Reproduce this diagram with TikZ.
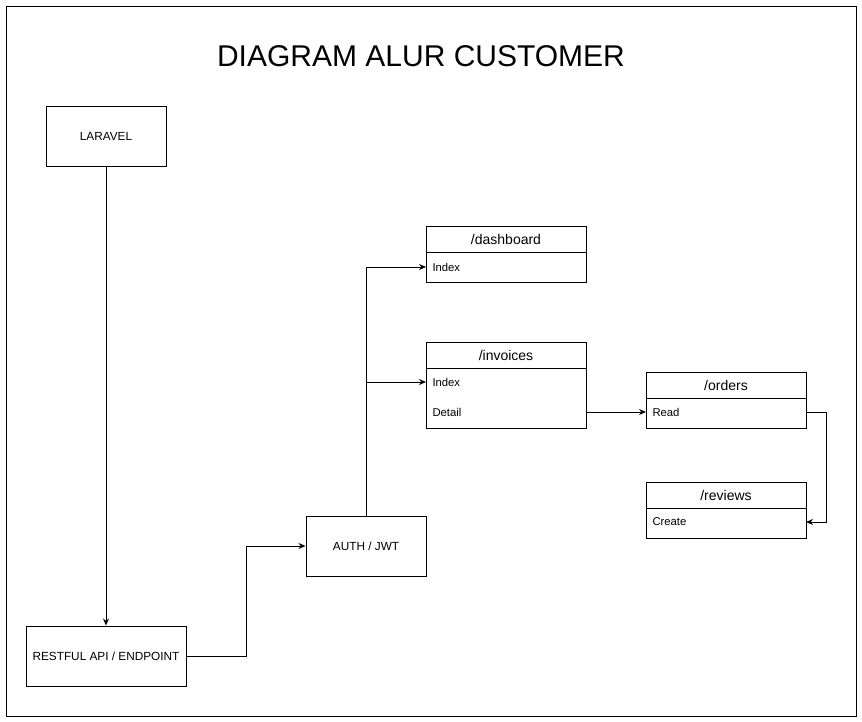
\documentclass[tikz,border=0pt]{standalone}
\usepackage{fontspec}
\setmainfont{Liberation Sans}
\usetikzlibrary{arrows.meta}
\begin{document}
\begin{tikzpicture}[x=1pt,y=-1pt,line width=1pt,
  box/.style={draw,minimum width=120pt,minimum height=60pt,inner sep=0pt,font=\fontsize{11.8}{13}\selectfont},
  hdr/.style={draw,minimum width=160pt,minimum height=26pt,inner sep=0pt,font=\fontsize{14}{16}\selectfont},
  body/.style={draw,minimum width=160pt,inner sep=0pt},
  row/.style={anchor=west,inner sep=0pt,font=\fontsize{11.3}{13}\selectfont},
  conn/.style={-{Stealth[length=7pt,width=6pt]}}]
\useasboundingbox (0,0) rectangle (862,721);
\node[draw,minimum width=850pt,minimum height=710pt,inner sep=0pt] (frame) at (431,361) {};
\node[font=\fontsize{30}{34}\selectfont] (title) at (421,56) {DIAGRAM ALUR CUSTOMER};
\node[box] (laravel) at (106,136) {LARAVEL};
\node[box,minimum width=160pt] (rest) at (106,656) {RESTFUL API / ENDPOINT};
\node[box] (auth) at (366,546) {AUTH / JWT};
% dashboard
\node[hdr] (dashh) at (506,239) {/dashboard};
\node[body,minimum height=30pt] (dashb) at (506,267) {};
\node[row] (dashidx) at (432,267) {Index};
% invoices
\node[hdr] (invh) at (506,355) {/invoices};
\node[body,minimum height=60pt] (invb) at (506,398) {};
\node[row] (invidx) at (432,382) {Index};
\node[row] (invdet) at (432,412) {Detail};
% orders
\node[hdr] (ordh) at (726,385) {/orders};
\node[body,minimum height=30pt] (ordb) at (726,413) {};
\node[row] (ordread) at (652,412) {Read};
% reviews
\node[hdr] (revh) at (726,495) {/reviews};
\node[body,minimum height=30pt] (revb) at (726,523) {};
\node[row] (revcr) at (652,522) {Create};
\coordinate (j1) at (366,382);
\coordinate (dashin) at (426,267);
\coordinate (invin) at (426,382);
\coordinate (detout) at (586,412);
\coordinate (readin) at (646,412);
\coordinate (readout) at (806,412);
\coordinate (crin) at (806,522);
% connectors
\draw[conn] (laravel.south) -- (rest.north);
\draw[conn] (rest.east) -- (246,656) |- (auth.west);
\draw[conn] (auth.north) |- (dashin);
\draw[conn] (j1) -- (invin);
\draw[conn] (detout) -- (readin);
\draw[conn] (readout) -- (826,412) |- (crin);
\end{tikzpicture}
\end{document}
